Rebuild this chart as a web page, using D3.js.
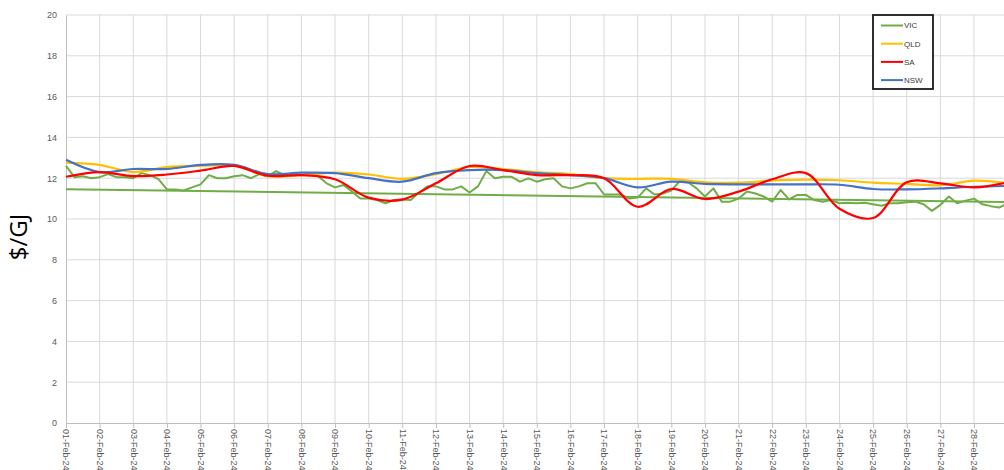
<!DOCTYPE html>
<html>
<head>
<meta charset="utf-8">
<script src="https://cdn.jsdelivr.net/npm/d3@7"></script>
<style>
  body { margin: 0; background: #fff; }
  .tick text { fill: #595959; font-family: "Liberation Sans", Arial, sans-serif; font-size: 9px; }
</style>
</head>
<body>
<div id="chart"></div>
<script>
// daily gas prices, Feb 2024 ($/GJ)
var days = d3.range(1, 30).map(function(d) { return new Date(2024, 1, d); });
var yTicks = [0, 2, 4, 6, 8, 10, 12, 14, 16, 18, 20];

var qld = [12.76, 12.65, 12.3, 12.55, 12.6, 12.62, 12.1, 12.15, 12.27, 12.18, 11.97, 12.2, 12.55, 12.45,
  12.3, 12.2, 12.0, 11.97, 11.97, 11.8, 11.78, 11.88, 11.93, 11.9, 11.78, 11.72, 11.65, 11.88, 11.75];
var sa = [12.07, 12.3, 12.1, 12.18, 12.37, 12.6, 12.12, 12.15, 11.95, 11.05, 10.95, 11.75, 12.6, 12.4,
  12.15, 12.15, 12.0, 10.6, 11.47, 10.98, 11.34, 11.95, 12.25, 10.5, 10.05, 11.8, 11.75, 11.55, 11.8];
var nsw = [12.9, 12.3, 12.45, 12.45, 12.65, 12.65, 12.2, 12.27, 12.25, 12.0, 11.83, 12.25, 12.4, 12.4,
  12.25, 12.15, 12.0, 11.55, 11.83, 11.72, 11.7, 11.7, 11.7, 11.68, 11.47, 11.45, 11.5, 11.58, 11.62];

// VIC is 6-hourly
var vicStepHours = 6;
var vic = [
  12.6, 12.05, 12.1, 12.0,
  12.05, 12.2, 12.05, 12.05,
  12.0, 12.25, 12.15, 11.95,
  11.45, 11.45, 11.4, 11.55,
  11.7, 12.15, 12.0, 12.0,
  12.1, 12.15, 12.0, 12.2,
  12.1, 12.35, 12.15, 12.2,
  12.15, 12.24, 12.1, 11.75,
  11.55, 11.67, 11.35, 11.0,
  11.0, 10.93, 10.77, 10.93,
  10.96, 10.93, 11.3, 11.6,
  11.6, 11.45, 11.45, 11.6,
  11.3, 11.6, 12.35, 12.0,
  12.07, 12.07, 11.83, 11.99,
  11.83, 11.95, 12.0, 11.6,
  11.5, 11.6, 11.75, 11.75,
  11.2, 11.2, 11.2, 11.0,
  11.05, 11.5, 11.2, 11.25,
  11.4, 11.85, 11.8, 11.5,
  11.1, 11.5, 10.85, 10.85,
  11.0, 11.35, 11.25, 11.1,
  10.85, 11.42, 10.96, 11.18,
  11.18, 10.93, 10.85, 10.93,
  10.77, 10.8, 10.77, 10.8,
  10.72, 10.65, 10.77, 10.77,
  10.82, 10.85, 10.72, 10.4,
  10.69, 11.1, 10.77, 10.9,
  11.0, 10.72, 10.63, 10.56,
  10.77];
// VIC linear trend (start / end of month)
var vicTrend = [11.46, 10.83];

var width = 1004, height = 470;
var mLeft = 66, mTop = 15, mBottom = 423;

var svg = d3.select("#chart").append("svg")
    .attr("width", width)
    .attr("height", height);

var x = d3.scaleTime()
    .domain([days[0], days[days.length - 1]])
    .range([mLeft, mLeft + 28 * 33.63]);

var y = d3.scaleLinear()
    .domain([0, 20])
    .range([mBottom, mTop]);

// gridlines
svg.append("g").selectAll("line")
    .data(yTicks.filter(function(d) { return d > 0; }))
    .enter().append("line")
    .attr("x1", mLeft).attr("x2", width)
    .attr("y1", function(d) { return y(d); })
    .attr("y2", function(d) { return y(d); })
    .attr("stroke", "#d9d9d9");

svg.append("g").selectAll("line")
    .data(days.slice(1))
    .enter().append("line")
    .attr("x1", function(d) { return x(d); })
    .attr("x2", function(d) { return x(d); })
    .attr("y1", mTop).attr("y2", mBottom)
    .attr("stroke", "#d9d9d9");

// axes
var xAxis = svg.append("g")
    .attr("transform", "translate(0," + mBottom + ")")
    .call(d3.axisBottom(x).tickValues(days.slice(0, 28))
        .tickFormat(d3.timeFormat("%d-%b-%y")).tickSize(5).tickSizeOuter(0));
xAxis.select(".domain").attr("stroke", "#bfbfbf");
xAxis.selectAll(".tick line").attr("stroke", "#bfbfbf");
xAxis.selectAll(".tick text")
    .attr("x", 6).attr("y", 0).attr("dy", "0.35em")
    .attr("transform", "rotate(90)")
    .style("text-anchor", "start");

var yAxis = svg.append("g")
    .attr("transform", "translate(" + mLeft + ",0)")
    .call(d3.axisLeft(y).tickValues(yTicks).tickSize(0).tickPadding(9).tickSizeOuter(0));
yAxis.select(".domain").attr("stroke", "#bfbfbf");

svg.append("text")
    .attr("transform", "translate(27,237)rotate(-90)")
    .attr("text-anchor", "middle")
    .style("font-family", "'Open Sans', sans-serif")
    .style("font-size", "24px")
    .attr("fill", "#000")
    .text("$/GJ");

// lines
var plot = svg.append("g");

var trendLine = d3.line()
    .x(function(d, i) { return x(days[i * 28]); })
    .y(function(d) { return y(d); });
plot.append("path")
    .datum(vicTrend)
    .attr("d", trendLine)
    .attr("fill", "none")
    .attr("stroke", "#70ad47")
    .attr("stroke-width", 2);

var vicLine = d3.line()
    .x(function(d, i) { return x(d3.timeHour.offset(days[0], i * vicStepHours)); })
    .y(function(d) { return y(d); });
plot.append("path")
    .datum(vic)
    .attr("d", vicLine)
    .attr("fill", "none")
    .attr("stroke", "#70ad47")
    .attr("stroke-width", 2)
    .attr("stroke-linejoin", "round");

var smooth = d3.line()
    .x(function(d, i) { return x(days[i]); })
    .y(function(d) { return y(d); })
    .curve(d3.curveCatmullRom.alpha(0.5));

[[qld, "#ffc000"], [nsw, "#4472c4"], [sa, "#ff0000"]].forEach(function(s) {
  plot.append("path")
      .datum(s[0])
      .attr("d", smooth)
      .attr("fill", "none")
      .attr("stroke", s[1])
      .attr("stroke-width", 2.2);
});

// legend
var legendItems = [["VIC", "#70ad47"], ["QLD", "#ffc000"], ["SA", "#ff0000"], ["NSW", "#4472c4"]];
var legend = svg.append("g").attr("transform", "translate(873,15)");
legend.append("rect")
    .attr("width", 60).attr("height", 74)
    .attr("fill", "#fff")
    .attr("stroke", "#1a1a1a")
    .attr("stroke-width", 1.8);
legendItems.forEach(function(d, i) {
  var ly = 10.5 + i * 18.2;
  legend.append("line")
      .attr("x1", 8).attr("x2", 30)
      .attr("y1", ly).attr("y2", ly)
      .attr("stroke", d[1]).attr("stroke-width", 2);
  legend.append("text")
      .attr("x", 31).attr("y", ly).attr("dy", "0.35em")
      .style("font-family", "'Liberation Sans', Arial, sans-serif")
      .style("font-size", "8px")
      .attr("fill", "#404040")
      .text(d[0]);
});
</script>
</body>
</html>
